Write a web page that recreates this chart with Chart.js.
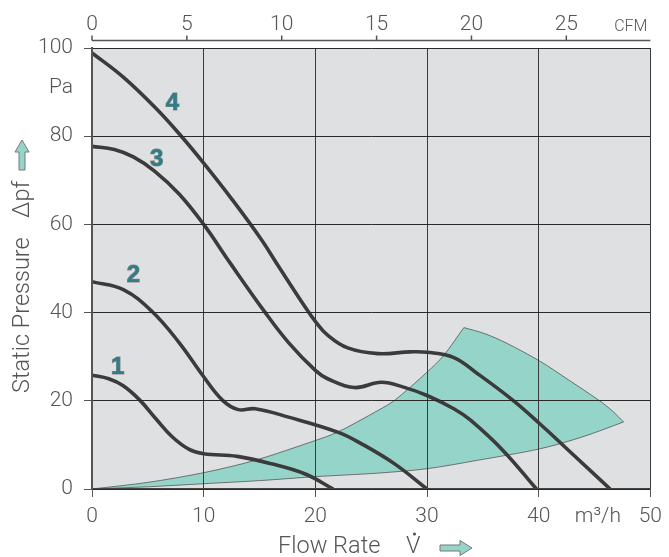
<!DOCTYPE html>
<html><head><meta charset="utf-8">
<script src="https://cdn.jsdelivr.net/npm/chart.js@4/dist/chart.umd.min.js"></script>
<style>html,body{margin:0;padding:0;background:#fff}</style>
</head><body>
<canvas id="c" width="669" height="557"></canvas>
<script>
// ---- axes ----
const flowTicks = [0, 10, 20, 30, 40, 50];
const flowUnit = { value: 45.3, label: 'm³/h' };
const pressureTicks = [0, 20, 40, 60, 80, 100];
const pressureUnit = { value: 91, label: 'Pa' };
const cfmTicks = [0, 5, 10, 15, 20, 25];
const cfmUnit = { value: 28.4, label: 'CFM' };
const m3hPerCfm = 1.699;

// ---- fan curves (flow m³/h, pressure Pa) ----
const curve1X = [0, 1.5, 2.8, 4.3, 5.7, 7.2, 8.7, 10, 13, 16.1, 19.1, 21.6];
const curve1Y = [25.8, 25.0, 23.4, 20.1, 16.0, 11.8, 9.0, 8.0, 7.4, 5.7, 3.4, 0];
const curve2X = [0, 2.8, 5.4, 7.8, 9.9, 11.7, 13.1, 14.6, 17.6, 22.0, 24.1, 27.1, 30.0];
const curve2Y = [47.0, 45.2, 40.2, 33.2, 25.8, 20.1, 18.0, 18.2, 16.3, 12.9, 10.3, 5.7, 0];
const curve3X = [0, 2.0, 3.7, 5.6, 7.8, 10, 12.3, 15.4, 17.6, 20, 21.1, 23.5, 25.9, 27.9, 30, 32.4, 33.9, 36.8, 39.8];
const curve3Y = [77.7, 77.0, 75.3, 72.1, 66.9, 60, 51.5, 40.4, 33.2, 26.9, 25.0, 23.0, 24.2, 23.1, 21.2, 18.2, 15.6, 8.75, 0];
const curve4X = [0, 2.8, 5.7, 8.0, 10, 12.5, 15.1, 16.7, 19.1, 20, 21.1, 22.9, 25.6, 28.5, 30, 32.4, 34.5, 37.7, 40.1, 43.0, 46.4];
const curve4Y = [98.9, 93.4, 86.4, 80.0, 73.9, 65.8, 56.8, 50.5, 41.2, 38.0, 34.9, 32.0, 30.7, 31.1, 31.0, 29.8, 26.2, 20.1, 14.8, 8.0, 0];
const curveNames = ['1', '2', '3', '4'];
const curveLabelX = [2.3, 3.7, 5.8, 7.2];
const curveLabelY = [27.5, 48.4, 74.7, 87.4];

// ---- recommended operating range (shaded area) ----
const rangeLowerX = [0, 5, 10, 15, 20, 25.6, 30, 34.5, 40.1, 43.9, 47.6];
const rangeLowerY = [0, 0.5, 1.2, 1.9, 2.8, 3.6, 4.6, 6.5, 9.1, 11.8, 15.2];
const rangeArcX = [47.6, 46.6, 45.4, 42.7, 40.1, 37.1, 35.2, 33.3];
const rangeArcY = [15.2, 17.7, 20.1, 24.7, 29.0, 33.1, 35.2, 36.6];
const rangeUpperX = [33.3, 31.5, 30, 27.1, 25.6, 22, 20, 14.6, 10, 5, 0];
const rangeUpperY = [36.6, 30.3, 26.5, 20.1, 17.8, 12.9, 11.0, 6.5, 3.7, 1.5, 0];

const FONT = 'Roboto';
const TXT = '#555';
const toPts = (xs, ys) => xs.map((x, i) => ({ x, y: ys[i] }));
const rangePoly = toPts(rangeLowerX, rangeLowerY)
  .concat(toPts(rangeArcX, rangeArcY))
  .concat(toPts(rangeUpperX, rangeUpperY));

const curveStyle = {
  showLine: true, pointRadius: 0, borderColor: '#3b3b3b', borderWidth: 3.6,
  tension: 0.4, fill: false, order: 1
};
const transparent = 'rgba(0,0,0,0)';

function drawArrowH(ctx, x0, x1, yc, shaft, headW, headL) {
  ctx.beginPath();
  ctx.moveTo(x0, yc - shaft / 2);
  ctx.lineTo(x1 - headL, yc - shaft / 2);
  ctx.lineTo(x1 - headL, yc - headW / 2);
  ctx.lineTo(x1, yc);
  ctx.lineTo(x1 - headL, yc + headW / 2);
  ctx.lineTo(x1 - headL, yc + shaft / 2);
  ctx.lineTo(x0, yc + shaft / 2);
  ctx.closePath();
  ctx.fill(); ctx.stroke();
}

const decor = {
  id: 'decor',
  beforeDraw(chart) {
    const { ctx, chartArea: a } = chart;
    ctx.save();
    ctx.fillStyle = '#dfe0e2';
    ctx.fillRect(a.left, a.top, a.right - a.left, a.bottom - a.top);
    ctx.restore();
  },
  afterDraw(chart) {
    const { ctx, chartArea: a, scales } = chart;
    const x2 = scales.x2;
    ctx.save();
    // top CFM axis line + ticks
    ctx.strokeStyle = '#555'; ctx.lineWidth = 1.5;
    const yl = a.top - 7.5;
    ctx.beginPath();
    ctx.moveTo(a.left, yl); ctx.lineTo(a.right, yl);
    cfmTicks.forEach(v => {
      const px = x2.getPixelForValue(v);
      ctx.moveTo(px, yl); ctx.lineTo(px, yl - 5);
    });
    ctx.stroke();

    // curve numbers
    ctx.font = 'bold 24px "Liberation Sans"';
    ctx.textAlign = 'center'; ctx.textBaseline = 'middle';
    ctx.lineWidth = 1.2; ctx.strokeStyle = '#8a8a8a'; ctx.fillStyle = '#2e7d88';
    curveNames.forEach((n, i) => {
      const px = scales.x.getPixelForValue(curveLabelX[i]);
      const py = scales.y.getPixelForValue(curveLabelY[i]);
      ctx.strokeText(n, px, py);
      ctx.fillText(n, px, py);
    });

    // bottom title
    ctx.fillStyle = TXT;
    ctx.font = '300 23.5px ' + FONT;
    ctx.textAlign = 'left'; ctx.textBaseline = 'alphabetic';
    ctx.fillText('Flow Rate', 278, 553);
    ctx.fillText('V', 406, 553);
    ctx.beginPath(); ctx.arc(414.5, 534, 1.6, 0, Math.PI * 2); ctx.fill();
    ctx.fillStyle = '#95d5c9'; ctx.strokeStyle = '#777'; ctx.lineWidth = 1;
    drawArrowH(ctx, 440, 472, 548, 6, 15, 12);

    // left title
    ctx.save();
    ctx.translate(28.5, 393);
    ctx.rotate(-Math.PI / 2);
    ctx.fillStyle = TXT;
    ctx.font = '300 23.5px ' + FONT;
    ctx.fillText('Static Pressure', 0, 0);
    ctx.fillText('Δpf', 175, 0);
    ctx.fillStyle = '#95d5c9'; ctx.strokeStyle = '#777';
    drawArrowH(ctx, 223, 253, -6.5, 6, 14, 12);
    ctx.restore();

    ctx.restore();
  }
};

new Chart(document.getElementById('c'), {
  type: 'scatter',
  data: {
    datasets: [
      { data: toPts(curve1X, curve1Y), ...curveStyle },
      { data: toPts(curve2X, curve2Y), ...curveStyle },
      { data: toPts(curve3X, curve3Y), ...curveStyle },
      { data: toPts(curve4X, curve4Y), ...curveStyle },
      { data: rangePoly, showLine: true, pointRadius: 0, tension: 0.3, fill: 'shape',
        backgroundColor: '#95d5c9', borderColor: '#555', borderWidth: 0.8, order: 2 }
    ]
  },
  options: {
    responsive: false, animation: false, devicePixelRatio: 1, events: [],
    layout: { padding: { left: 0, right: 14, top: 0, bottom: 0 } },
    plugins: { legend: { display: false }, tooltip: { enabled: false } },
    font: { family: FONT },
    scales: {
      x: {
        type: 'linear', position: 'bottom', min: 0, max: 50,
        afterBuildTicks: s => { s.ticks = flowTicks.concat([flowUnit.value]).sort((a, b) => a - b).map(v => ({ value: v })); },
        afterFit: s => { s.height = 68; },
        ticks: {
          autoSkip: false, maxRotation: 0, color: TXT, padding: 7,
          font: { family: FONT, size: 21, weight: 300 },
          callback: v => v === flowUnit.value ? flowUnit.label : String(v)
        },
        grid: {
          z: 1, lineWidth: 1, tickLength: 8,
          color: c => (c.tick && c.tick.value === flowUnit.value) ? transparent : '#3a3a3a',
          tickColor: c => (c.tick && c.tick.value === flowUnit.value) ? transparent : '#555'
        },
        border: { z: 1, color: '#444', width: 1.5 }
      },
      x2: {
        type: 'linear', position: 'top', min: 0, max: 50 / m3hPerCfm,
        afterBuildTicks: s => { s.ticks = cfmTicks.concat([cfmUnit.value]).map(v => ({ value: v })); },
        afterFit: s => { s.height = 48; },
        ticks: {
          autoSkip: false, maxRotation: 0, color: TXT, padding: 11,
          font: c => (c.tick && c.tick.value === cfmUnit.value)
            ? { family: FONT, size: 16, weight: 300 }
            : { family: FONT, size: 21, weight: 300 },
          callback: v => v === cfmUnit.value ? cfmUnit.label : String(v)
        },
        grid: { display: false, drawTicks: false },
        border: { display: false }
      },
      y: {
        type: 'linear', position: 'left', min: 0, max: 100,
        afterBuildTicks: s => { s.ticks = pressureTicks.concat([pressureUnit.value]).sort((a, b) => a - b).map(v => ({ value: v })); },
        afterFit: s => { s.width = 92; },
        ticks: {
          autoSkip: false, color: TXT, padding: 11,
          font: { family: FONT, size: 21, weight: 300 },
          callback: v => v === pressureUnit.value ? pressureUnit.label : String(v)
        },
        grid: {
          z: 1, lineWidth: 1, tickLength: 8,
          color: c => (c.tick && c.tick.value === pressureUnit.value) ? transparent : '#2a2a2a',
          tickColor: c => (c.tick && c.tick.value === pressureUnit.value) ? transparent : '#555'
        },
        border: { z: 1, color: '#555', width: 2 }
      }
    }
  },
  plugins: [decor]
});
</script>
</body></html>
